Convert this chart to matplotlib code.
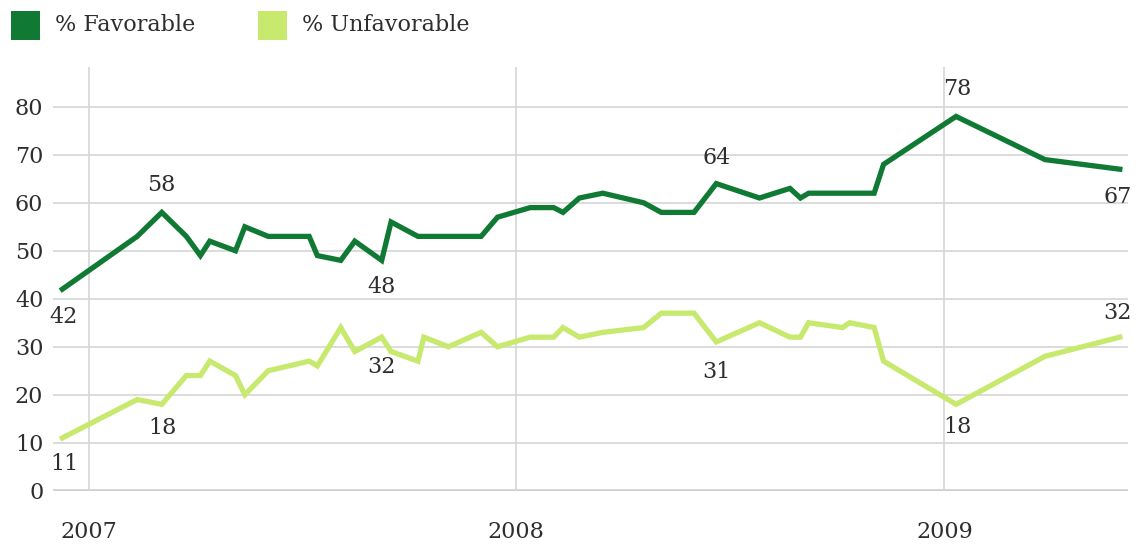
import matplotlib
matplotlib.use("Agg")
import matplotlib.pyplot as plt
from matplotlib.patches import Rectangle
import pandas as pd

# ---- data ----
dates = ["2006-12-09", "2007-02-11", "2007-03-04", "2007-03-25", "2007-04-06",
         "2007-04-14", "2007-05-06", "2007-05-14", "2007-06-03", "2007-07-08",
         "2007-07-15", "2007-08-04", "2007-08-16", "2007-09-08", "2007-09-16",
         "2007-10-09", "2007-10-14", "2007-11-04", "2007-12-02", "2007-12-16",
         "2008-01-13", "2008-02-02", "2008-02-10", "2008-02-24", "2008-03-15",
         "2008-04-19", "2008-05-04", "2008-06-01", "2008-06-20", "2008-07-27",
         "2008-08-22", "2008-08-31", "2008-09-07", "2008-10-06", "2008-10-12",
         "2008-11-02", "2008-11-10", "2009-01-11", "2009-03-28", "2009-05-31"]
favorable = [42, 53, 58, 53, 49, 52, 50, 55, 53, 53,
             49, 48, 52, 48, 56, 53, 53, 53, 53, 57,
             59, 59, 58, 61, 62, 60, 58, 58, 64, 61,
             63, 61, 62, 62, 62, 62, 68, 78, 69, 67]
unfavorable = [11, 19, 18, 24, 24, 27, 24, 20, 25, 27,
               26, 34, 29, 32, 29, 27, 32, 30, 33, 30,
               32, 32, 34, 32, 33, 34, 37, 37, 31, 35,
               32, 32, 35, 34, 35, 34, 27, 18, 28, 32]
series_names = ["% Favorable", "% Unfavorable"]
year_ticks = ["2007-01-01", "2008-01-01", "2009-01-01"]
year_labels = ["2007", "2008", "2009"]
y_ticks = [0, 10, 20, 30, 40, 50, 60, 70, 80]
fav_labeled = [0, 2, 13, 28, 37, 39]
unfav_labeled = [0, 2, 13, 28, 37, 39]

# ---- style ----
DARK = "#107a35"
LIGHT = "#c6e96e"
GRID = "#d6d6d6"
TXT = "#2e2e2e"
FONT = "DejaVu Serif"
FS = 16

x = pd.to_datetime(dates)
W, H = 1140, 546
fig = plt.figure(figsize=(W / 100, H / 100), dpi=100)
ax = fig.add_axes([53 / W, 1 - 490.7 / H, (1128 - 53) / W, (490.7 - 67) / H])

ax.set_xlim(pd.Timestamp("2006-12-01"), pd.Timestamp("2009-06-07"))
ax.set_ylim(0, 88.3)

for v in y_ticks[1:]:
    ax.axhline(v, color=GRID, lw=1.2, zorder=1)
ax.axhline(0, color="#cfcfcf", lw=2.6, zorder=1)
for d in year_ticks:
    ax.axvline(pd.Timestamp(d), color=GRID, lw=1.2, zorder=1)

ax.plot(x, unfavorable, color=LIGHT, lw=3.8, solid_joinstyle="miter", zorder=3)
ax.plot(x, favorable, color=DARK, lw=3.8, solid_joinstyle="miter", zorder=4)

for s in ax.spines.values():
    s.set_visible(False)

ax.set_yticks(y_ticks)
ax.set_yticklabels([str(v) for v in y_ticks], fontfamily=FONT, fontsize=FS, color=TXT)
ax.set_xticks(pd.to_datetime(year_ticks))
ax.set_xticklabels(year_labels, fontfamily=FONT, fontsize=FS, color=TXT)
ax.tick_params(axis="y", length=0, pad=7)
ax.tick_params(axis="x", length=0, pad=22)

# point labels (offsets in pixels)
fav_off = {0: (1, -28), 2: (0, 27), 13: (0, -27), 28: (0, 26), 37: (1, 27), 39: (-2, -28)}
unf_off = {0: (2, -26), 2: (1, -24), 13: (0, -30), 28: (0, -30), 37: (1, -23), 39: (-2, 24)}
for i in fav_labeled:
    ax.annotate(str(favorable[i]), (x[i], favorable[i]), xytext=fav_off[i],
                textcoords="offset pixels", ha="center", va="center",
                fontfamily=FONT, fontsize=FS, color=TXT, zorder=5)
for i in unfav_labeled:
    ax.annotate(str(unfavorable[i]), (x[i], unfavorable[i]), xytext=unf_off[i],
                textcoords="offset pixels", ha="center", va="center",
                fontfamily=FONT, fontsize=FS, color=TXT, zorder=5)

# legend
for (sx, tx), col, name in zip([(11, 55), (258, 302)], [DARK, LIGHT], series_names):
    fig.add_artist(Rectangle((sx / W, 1 - 40 / H), 29 / W, 29 / H,
                             transform=fig.transFigure, color=col, lw=0))
    fig.text(tx / W, 1 - 25 / H, name, ha="left", va="center",
             fontfamily=FONT, fontsize=FS, color=TXT)

fig.savefig("out.png", dpi=100)
